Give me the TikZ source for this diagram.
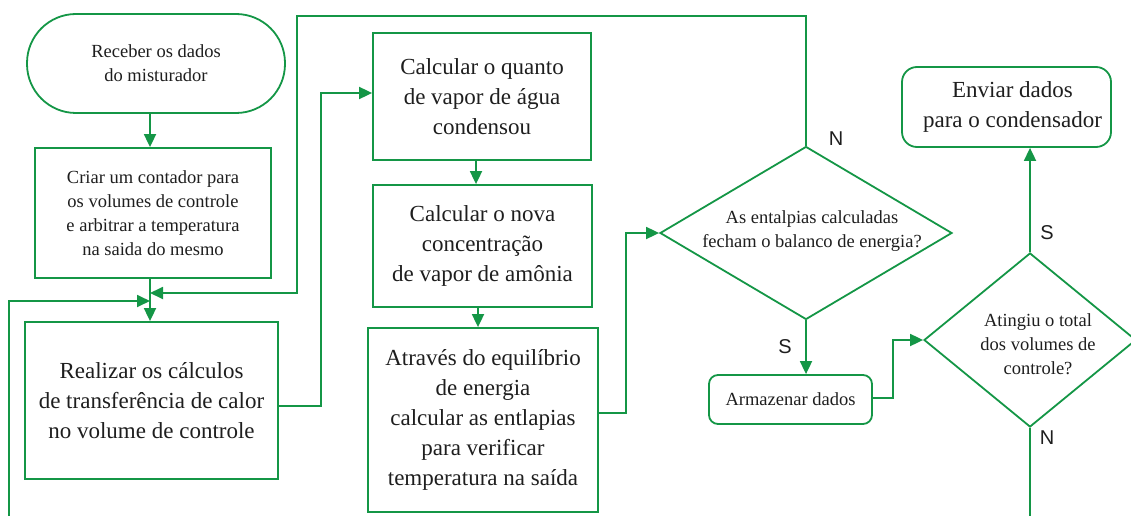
\documentclass[tikz,border=0pt]{standalone}
\usepackage{fontspec}
\setmainfont{Liberation Serif}
\newfontfamily\labelfont{Liberation Sans}
\usetikzlibrary{shapes.geometric,arrows.meta}
\definecolor{fgreen}{RGB}{20,150,70}
\definecolor{ftext}{RGB}{30,30,30}
\begin{document}
\begin{tikzpicture}[x=1pt,y=-1pt,
  every node/.style={text=ftext},
  box/.style={draw=fgreen, line width=1.8pt, rectangle, inner sep=0pt, align=center},
  small/.style={font=\fontsize{18.5}{24}\selectfont},
  big/.style={font=\fontsize{23}{30}\selectfont},
  conn/.style={draw=fgreen, line width=1.8pt},
  arr/.style={conn, -{Triangle[length=13pt,width=12pt]}},
  dec/.style={draw=fgreen, line width=1.8pt, diamond, inner sep=0pt},
  yn/.style={font=\labelfont\fontsize{20}{20}\selectfont},
]
\useasboundingbox (0,0) rectangle (1131,516);
\clip (0,0) rectangle (1131,516);

% nodes
\node[box, small, rounded corners=49pt, minimum width=258pt, minimum height=99pt] (start) at (156,63.5) {Receber os dados\\do misturador};
\node[box, small, minimum width=236pt, minimum height=130pt] (criar) at (153,213) {Criar um contador para\\os volumes de controle\\e arbitrar a temperatura\\na saida do mesmo};
\node[box, big, minimum width=253pt, minimum height=157pt] (real) at (151.5,400.5) {Realizar os cálculos\\de transferência de calor\\no volume de controle};
\node[box, big, minimum width=218pt, minimum height=127pt] (calc1) at (482,96.5) {Calcular o quanto\\de vapor de água\\condensou};
\node[box, big, minimum width=219pt, minimum height=122pt] (calc2) at (482.5,246) {Calcular o nova\\concentração\\de vapor de amônia};
\node[box, big, minimum width=230pt, minimum height=184pt] (calc3) at (483,420) {Através do equilíbrio\\de energia\\calcular as entlapias\\para verificar\\temperatura na saída};
\node[dec, minimum width=292pt, minimum height=173pt] (d1) at (806,233) {};
\node[small, align=center] (d1t) at (812,231) {As entalpias calculadas\\fecham o balanco de energia?};
\node[box, small, rounded corners=9pt, minimum width=163pt, minimum height=49pt] (arm) at (790.5,399.5) {Armazenar dados};
\node[dec, minimum width=212pt, minimum height=174pt] (d2) at (1030,340) {};
\node[small, align=center] (d2t) at (1038,344) {Atingiu o total\\dos volumes de\\controle?};
\node[box, big, rounded corners=15pt, minimum width=209pt, minimum height=80pt] (env) at (1006.5,107) {\hspace*{12pt}Enviar dados\\\hspace*{12pt}para o condensador};

% labels
\node[yn] (n1) at (836,139) {N};
\node[yn] (s1) at (785,347) {S};
\node[yn] (s2) at (1047,233) {S};
\node[yn] (n2) at (1047,438) {N};

% junction points on the main vertical line
\coordinate (vx) at (150,0);
\coordinate (j1) at (150,293);
\coordinate (j2) at (150,301);

% connectors
\draw[arr] (vx |- start.south) -- (vx |- criar.north);
\draw[arr] (vx |- criar.south) -- (vx |- real.north);
\draw[arr] (real.east |- 0,406) -- (321,406) -- (321,93) -- (calc1.west |- 0,93);
\draw[arr] (476,0 |- calc1.south) -- (476,0 |- calc2.north);
\draw[arr] (478,0 |- calc2.south) -- (478,0 |- calc3.north);
\draw[arr] (calc3.east |- 0,413) -- (626,413) -- (626,233) -- (d1.west);
\draw[arr] (d1.north) -- (806,16) -- (297,16) -- (297,293) -- (j1);
\draw[arr] (d1.south) -- (d1.south |- arm.north);
\draw[arr] (arm.east |- 0,398) -- (893,398) -- (893,340) -- (d2.west);
\draw[arr] (d2.north) -- (d2.north |- env.south);
\draw[arr] (d2.south) -- (1030,540) -- (9,540) -- (9,301) -- (j2);
\end{tikzpicture}
\end{document}
